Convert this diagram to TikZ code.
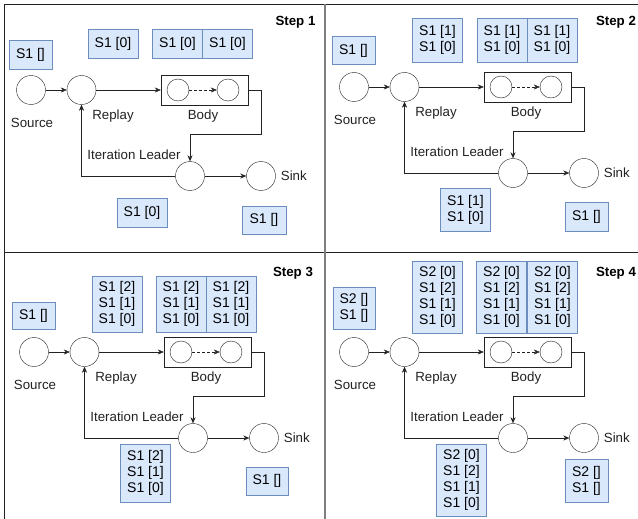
\documentclass[tikz,border=0pt]{standalone}
\usepackage{fontspec}
\setmainfont{Liberation Sans}
\usetikzlibrary{arrows.meta,positioning}
\definecolor{buffill}{HTML}{DAE8FC}
\definecolor{bufline}{HTML}{6C8EBF}
\definecolor{ink}{HTML}{222222}
\newcommand\dfont{\fontsize{13.3}{16}\selectfont}
\newcommand\bfont{\fontsize{14}{16}\selectfont}
\tikzstyle{op} = [draw=ink,circle,inner sep=0,minimum size=29pt,fill=white]
\tikzstyle{sub} = [draw=ink,circle,inner sep=0,minimum size=22pt,fill=white]
\tikzstyle{contour} = [draw=ink,rectangle,inner sep=0,minimum width=87pt,minimum height=30pt]
\tikzstyle{lbl} = [inner sep=1pt,text=ink,font=\dfont]
\tikzstyle{edge} = [draw=ink,-{Stealth[length=6pt,width=5pt]}]
\tikzstyle{steplbl} = [inner sep=0,font=\dfont\bfseries]
\tikzset{buf/.style={draw=bufline,fill=buffill,align=center,inner sep=0,
  minimum width=50pt,minimum height=#1,font=\bfont},buf/.default=29pt}

\begin{document}
\begin{tikzpicture}[x=1pt,y=-1pt]
      \useasboundingbox (0,0) rectangle (638,519);
      \draw[ink] (4.5,519) -- (4.5,4.5) -- (638,4.5);
      \draw[ink] (4.5,252) -- (638,252);
      \draw[gray,line width=1.2pt] (325,4.5) -- (325,519);
      \node[steplbl] at (295.5,22) {Step 1};
      \node[steplbl] at (616,22) {Step 2};
      \node[steplbl] at (293,273) {Step 3};
      \node[steplbl] at (616,273) {Step 4};
      \foreach \i/\ox/\oy in {1/31/90,2/354/87,3/34/352,4/354/352}{
        \begin{scope}[shift={(\ox,\oy)}]
          \node[op] (src\i) at (0,0) {};
          \node[op] (rep\i) at (50.5,0) {};
          \node[contour] (body\i) at (173.5,0) {};
          \node[sub] (bin\i) at (147,0) {};
          \node[sub] (bout\i) at (197,0) {};
          \node[op] (lead\i) at (159,86) {};
          \node[op] (sink\i) at (230,86) {};
          \coordinate (turn\i) at (230,44);
          \node[lbl] at (1,33) {Source};
          \node[lbl] at (82,26) {Replay};
          \node[lbl] at (172,26) {Body};
          \node[lbl] at (103,65) {Iteration Leader};
          \node[lbl,right=4pt of sink\i] {Sink};
          \draw[edge] (src\i) -- (rep\i);
          \draw[edge] (rep\i) -- (body\i);
          \draw[edge,densely dashed] (bin\i) -- (bout\i);
          \draw[edge] (body\i.east) -| (turn\i) -| (lead\i.north);
          \draw[edge] (lead\i) -- (sink\i);
          \draw[edge] (lead\i.west) -| (rep\i.south);
        \end{scope}
      }
      \node[buf,minimum width=43pt] (bsrc1) at (30.5,54.5) {S1 []};
      \node[buf] (brep1) at (113,43.5) {S1 [0]};
      \node[buf] (bbodya1) at (177.5,43.5) {S1 [0]};
      \node[buf] (bbodyb1) at (227.5,43.5) {S1 [0]};
      \node[buf] (blead1) at (142,212.5) {S1 [0]};
      \node[buf=28pt,minimum width=44pt] (bsink1) at (264,220) {S1 []};
      \node[buf=28pt,minimum width=43pt] (bsrc2) at (353.5,50.5) {S1 []};
      \node[buf=44pt] (brep2) at (437.5,40) {S1 [1]\\S1 [0]};
      \node[buf=44pt] (bbodya2) at (502,40) {S1 [1]\\S1 [0]};
      \node[buf=44pt] (bbodyb2) at (552,40) {S1 [1]\\S1 [0]};
      \node[buf=43pt] (blead2) at (465.5,209.5) {S1 [1]\\S1 [0]};
      \node[buf,minimum width=43pt] (bsink2) at (586.5,216.5) {S1 []};
      \node[buf=27pt,minimum width=43pt] (bsrc3) at (33.5,315.5) {S1 []};
      \node[buf=56pt] (brep3) at (117,304) {S1 [2]\\S1 [1]\\S1 [0]};
      \node[buf=56pt] (bbodya3) at (181,304) {S1 [2]\\S1 [1]\\S1 [0]};
      \node[buf=56pt] (bbodyb3) at (231,304) {S1 [2]\\S1 [1]\\S1 [0]};
      \node[buf=58pt] (blead3) at (145.5,473) {S1 [2]\\S1 [1]\\S1 [0]};
      \node[buf=28pt,minimum width=42pt] (bsink3) at (267,481) {S1 []};
      \node[buf=42pt,minimum width=42pt] (bsrc4) at (354,308) {S2 []\\S1 []};
      \node[buf=72pt] (brep4) at (437.5,297) {S2 [0]\\S1 [2]\\S1 [1]\\S1 [0]};
      \node[buf=72pt] (bbodya4) at (501.5,297) {S2 [0]\\S1 [2]\\S1 [1]\\S1 [0]};
      \node[buf=72pt] (bbodyb4) at (552.5,297) {S2 [0]\\S1 [2]\\S1 [1]\\S1 [0]};
      \node[buf=72pt] (blead4) at (461.5,480) {S2 [0]\\S1 [2]\\S1 [1]\\S1 [0]};
      \node[buf=43pt,minimum width=43pt] (bsink4) at (586.5,480.5) {S2 []\\S1 []};
    \end{tikzpicture}
\end{document}
